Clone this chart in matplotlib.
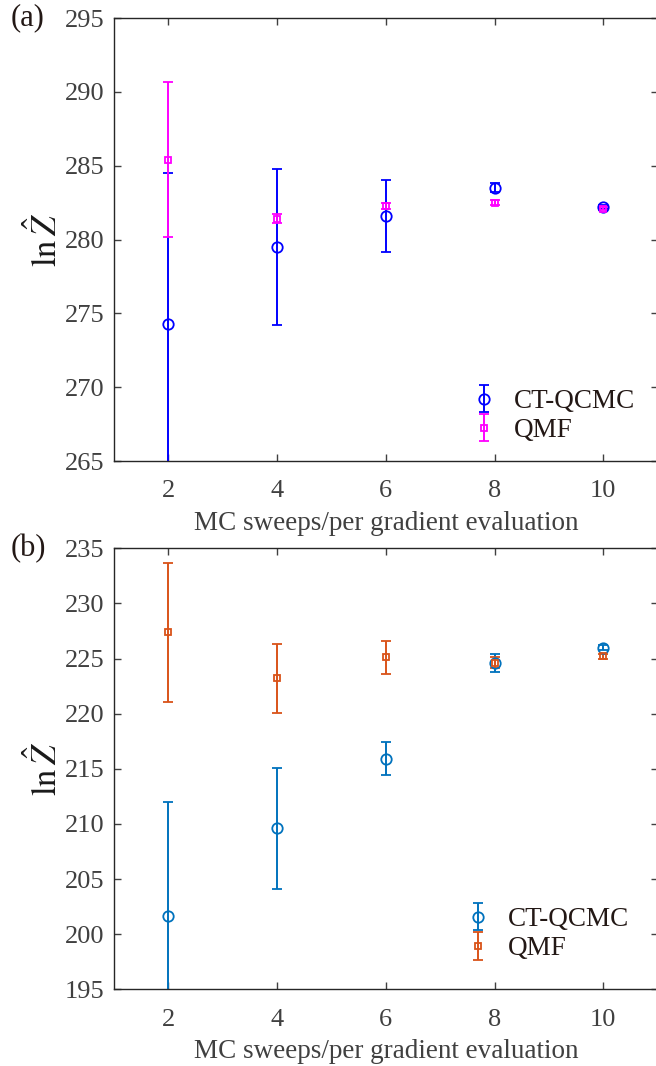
import matplotlib
matplotlib.use("Agg")
import matplotlib.pyplot as plt

plt.rcParams['font.family'] = ['Liberation Serif', 'DejaVu Serif']
plt.rcParams['mathtext.fontset'] = 'stix'

# data
sweeps = [2, 4, 6, 8, 10]

# panel (a)
a_ct = [274.3, 279.5, 281.6, 283.5, 282.2]
a_ct_err = [10.2, 5.3, 2.45, 0.3, 0.15]
a_qmf = [285.4, 281.4, 282.3, 282.5, 282.1]
a_qmf_err = [5.25, 0.3, 0.2, 0.15, 0.1]

# panel (b)
b_ct = [201.6, 209.6, 215.9, 224.6, 226.0]
b_ct_err = [10.4, 5.5, 1.5, 0.8, 0.25]
b_qmf = [227.4, 223.2, 225.1, 224.6, 225.2]
b_qmf_err = [6.3, 3.1, 1.5, 0.5, 0.2]

tick_col = '#404040'


def panel(ax, ct, ct_err, qmf, qmf_err, c1, c2, ylim, yticks, tag, leg_xy):
    ax.errorbar(sweeps, ct, yerr=ct_err, fmt='o', color=c1, mfc='none',
                ms=7.5, mew=1.3, elinewidth=1.4, capsize=3.5, capthick=1.4,
                label='CT-QCMC')
    ax.errorbar(sweeps, qmf, yerr=qmf_err, fmt='s', color=c2, mfc='none',
                ms=5, mew=1.3, elinewidth=1.4, capsize=3.5, capthick=1.4,
                label='QMF')
    ax.set_xlim(1, 11)
    ax.set_ylim(*ylim)
    ax.set_xticks([2, 4, 6, 8, 10])
    ax.set_yticks(yticks)
    ax.tick_params(direction='in', top=True, right=True, length=5,
                   labelsize=19, colors=tick_col, labelcolor=tick_col, width=1)
    ax.tick_params(axis='y', pad=7)
    ax.tick_params(axis='x', pad=14)
    for s in ax.spines.values():
        s.set_color('#262626')
        s.set_linewidth(1.0)
    ax.set_xlabel('MC sweeps/per gradient evaluation', fontsize=19.5,
                  color=tick_col, labelpad=6)
    ax.set_ylabel(r'$\ln\hat{Z}$', fontsize=25, color='#1a1a1a')
    ax.yaxis.set_label_coords(-0.09, 0.5)
    leg = ax.legend(loc='lower left', frameon=False, fontsize=19.5,
                    handlelength=1.0, handletextpad=0.6, labelspacing=0.15,
                    borderpad=0, borderaxespad=0, bbox_to_anchor=leg_xy)
    for t in leg.get_texts():
        t.set_color('#231815')
    ax.text(-0.19, 1.0, tag, transform=ax.transAxes, fontsize=22,
            va='center', ha='left', color='#231815')


fig = plt.figure(figsize=(6.56, 10.66), dpi=100)
ax1 = fig.add_axes([0.1738, 0.5675, 0.8288, 0.4156])
ax2 = fig.add_axes([0.1738, 0.0720, 0.8288, 0.4136])

panel(ax1, a_ct, a_ct_err, a_qmf, a_qmf_err, '#0000FF', '#FF00FF',
      (265, 295), range(265, 296, 5), '(a)', (0.656, 0.04))
panel(ax2, b_ct, b_ct_err, b_qmf, b_qmf_err, '#0072BD', '#D95319',
      (195, 235), range(195, 236, 5), '(b)', (0.644, 0.063))

fig.savefig('out.png', dpi=100)
